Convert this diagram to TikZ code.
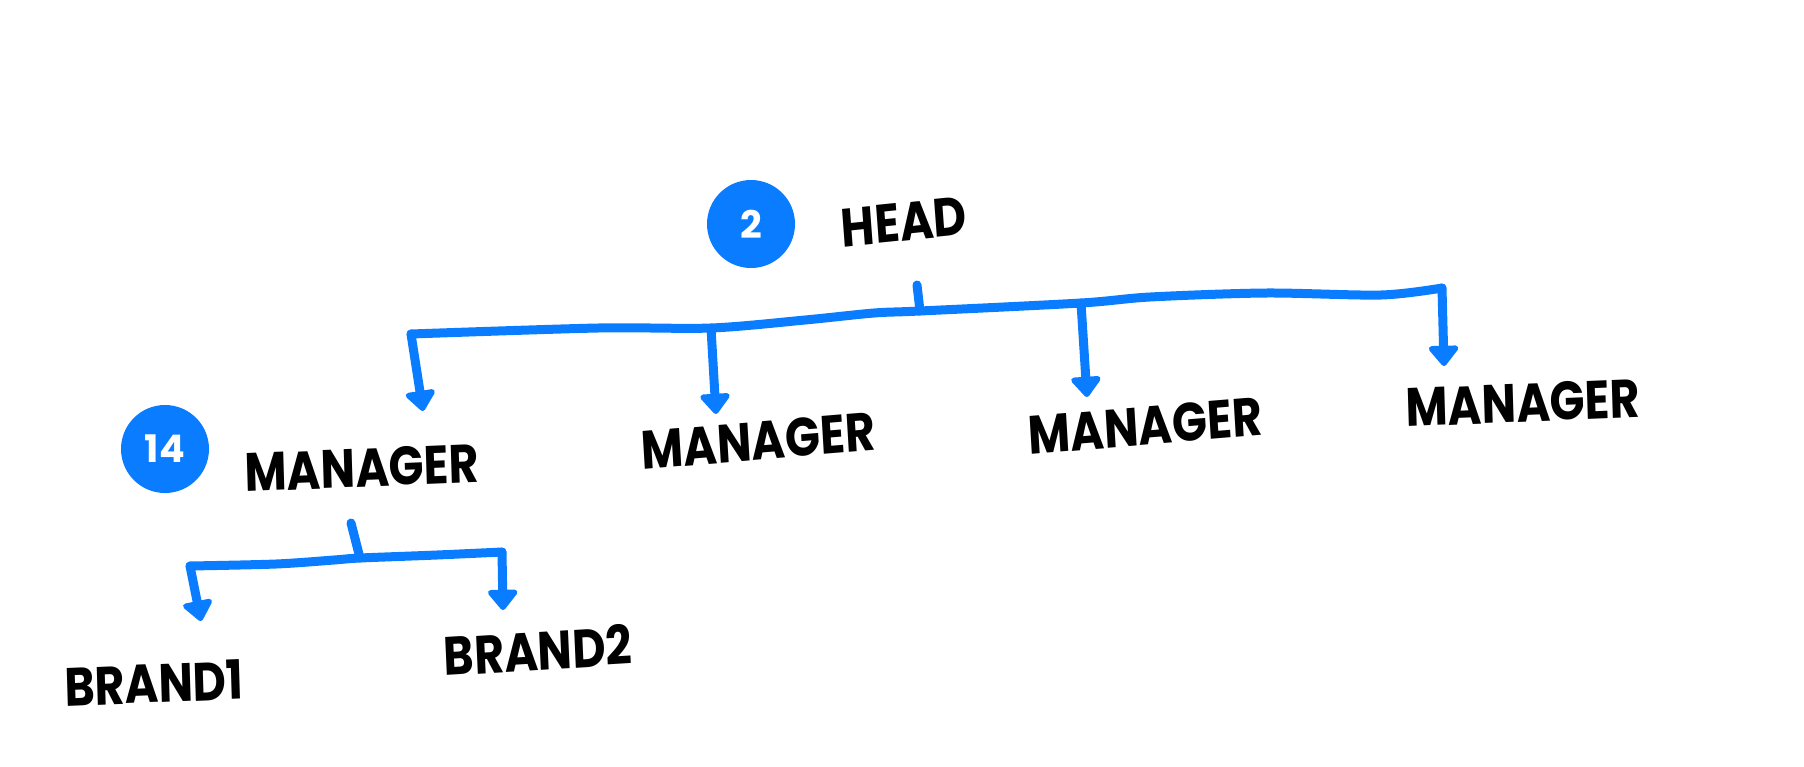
\documentclass[tikz,border=0pt]{standalone}
\usepackage{fontspec}
\setmainfont{Poppins}
\usetikzlibrary{arrows.meta,positioning}
\definecolor{linkblue}{HTML}{0A7CFF}
\begin{document}
\begin{tikzpicture}[x=1pt, y=-1pt,
    role/.style={font=\fontsize{54}{54}\selectfont\bfseries, text=black, inner sep=0pt, xscale=0.85},
    count/.style={circle, fill=linkblue, minimum size=88pt, inner sep=0pt, text=white,
                  font=\fontsize{38}{38}\selectfont\bfseries},
    link/.style={draw=linkblue, line width=9pt, line cap=round, line join=round},
    drop/.style={link, -{Triangle[width=34pt, length=22pt, round]}}]
    \useasboundingbox (0,0) rectangle (1804,766);

    \node[count] (c2) at (751,224) {2};
    \node[role, rotate=5] (head) at (904,222) {HEAD};
    \node[count] (c14) at (165,449) {14};
    \node[role, rotate=2] (m1) at (362,468) {MANAGER};
    \node[role, rotate=4] (m2) at (758,441) {MANAGER};
    \node[role, rotate=4] (m3) at (1145,426) {MANAGER};
    \node[role, rotate=2] (m4) at (1523,403) {MANAGER};
    \node[role, rotate=2] (b1) at (154,683) {BRAND1};
    \node[role, rotate=3] (b2) at (538,650) {BRAND2};

    \coordinate (hs) at (917,285);
    \coordinate (hj) at (920,311);
    \coordinate (j1) at (411,334);
    \coordinate (j2) at (711,328);
    \coordinate (j3) at (1081,303);
    \coordinate (j4) at (1442,288);
    \coordinate (t1) at (423,411);
    \coordinate (t2) at (716,414);
    \coordinate (t3) at (1087,397);
    \coordinate (t4) at (1444,366);

    \draw[link] (hs) -- (hj);
    \draw[link] plot[smooth, tension=0.5] coordinates {(j1) (598,328) (j2) (805,320) (874,313) (hj) (j3) (1150,297) (1266,293) (1381,295) (j4)};
    \draw[drop] (j1) -- (t1);
    \draw[drop] (j2) -- (t2);
    \draw[drop] (j3) -- (t3);
    \draw[drop] (j4) -- (t4);

    \coordinate (ms) at (351,523);
    \coordinate (mj) at (360,558);
    \coordinate (k1) at (190,566);
    \coordinate (k2) at (502,552);
    \coordinate (u1) at (201,621);
    \coordinate (u2) at (503,610);

    \draw[link] (ms) -- (mj);
    \draw[link] plot[smooth, tension=0.5] coordinates {(k1) (276,564) (334,560) (mj) (437,555) (k2)};
    \draw[drop] (k1) -- (u1);
    \draw[drop] (k2) -- (u2);
\end{tikzpicture}
\end{document}
